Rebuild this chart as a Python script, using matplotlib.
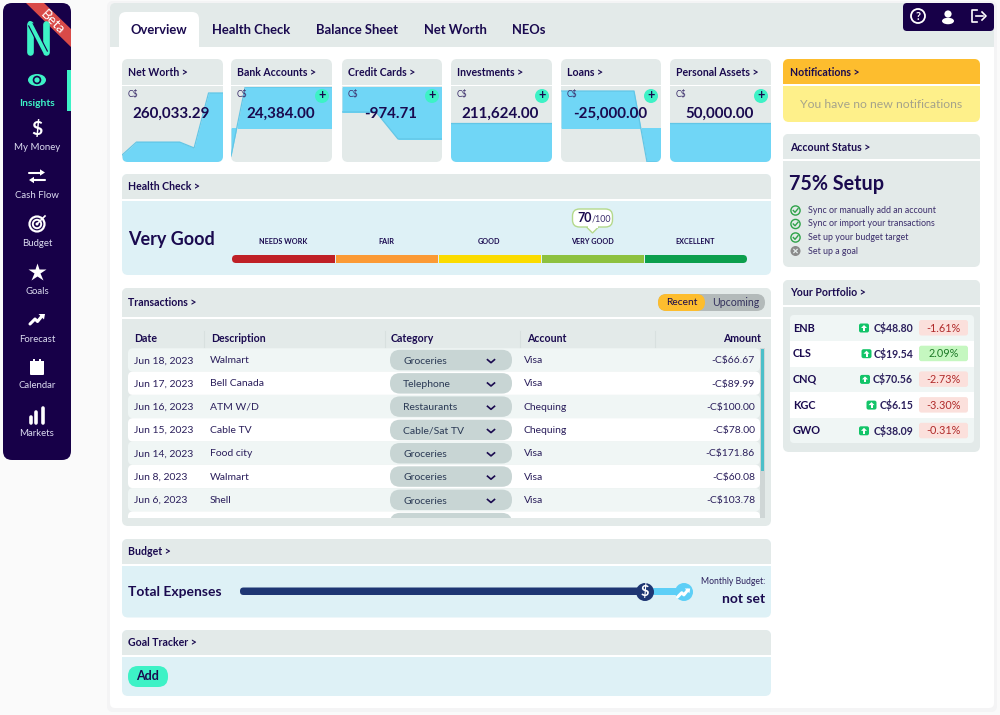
#! /usr/bin/env python
"""
plot.py
"""

import matplotlib
matplotlib.use('Agg')
import matplotlib.pyplot as plt
from matplotlib.patches import Circle, Ellipse, FancyBboxPatch, Polygon, Rectangle

INK = '#1a0a4f'
NAVY = '#170048'
TEAL = '#3df2c6'
PANEL = '#e3eae9'
BODY = '#def1f6'
SKY = '#70d6f6'

plt.rcParams['font.family'] = ['Lato', 'DejaVu Sans']

# sidebar
nav_labels = ['Insights', 'My Money', 'Cash Flow', 'Budget', 'Goals',
              'Forecast', 'Calendar', 'Markets']
tabs = ['Overview', 'Health Check', 'Balance Sheet', 'Net Worth', 'NEOs']

# summary cards
card_titles = ['Net Worth >', 'Bank Accounts >', 'Credit Cards >',
               'Investments >', 'Loans >', 'Personal Assets >']
card_values = [260033.29, 24384.00, -974.71, 211624.00, -25000.00, 50000.00]
card_plus = [False, True, True, True, True, True]
spark_x = [[0, 14.3, 28.6, 42.9, 57.1, 71.4, 85.7, 100],
           [0, 14, 100],
           [0, 34, 56, 100],
           [0, 100],
           [0, 73, 86, 100],
           [0, 100]]
spark_y = [[26000, 75000, 75000, 75000, 75000, 53000, 260033, 260033],
           [-16660, 24384, 24384],
           [-468, -468, -974.71, -974.71],
           [211624, 211624],
           [27200, 27200, -25000, -25000],
           [50000, 50000]]
spark_ylim = [(0, 282600), (-20220, 24384), (-1406, 0), (0, 406960),
              (-25000, 30147), (0, 96150)]

# health check
health_labels = ['NEEDS WORK', 'FAIR', 'GOOD', 'VERY GOOD', 'EXCELLENT']
health_colors = ['#bf2026', '#fb9a35', '#fbdc00', '#8dc13f', '#0b9f4d']
health_score = 70

# transactions
tx_headers = ['Date', 'Description', 'Category', 'Account', 'Amount']
tx_dates = ['Jun 18, 2023', 'Jun 17, 2023', 'Jun 16, 2023', 'Jun 15, 2023',
            'Jun 14, 2023', 'Jun 8, 2023', 'Jun 6, 2023']
tx_desc = ['Walmart', 'Bell Canada', 'ATM W/D', 'Cable TV', 'Food city',
           'Walmart', 'Shell']
tx_cat = ['Groceries', 'Telephone', 'Restaurants', 'Cable/Sat TV',
          'Groceries', 'Groceries', 'Groceries']
tx_acct = ['Visa', 'Visa', 'Chequing', 'Chequing', 'Visa', 'Visa', 'Visa']
tx_amount = [66.67, 89.99, 100.00, 78.00, 171.86, 60.08, 103.78]

# account status
setup_steps = ['Sync or manually add an account',
               'Sync or import your transactions',
               'Set up your budget target', 'Set up a goal']
setup_done = [True, True, True, False]

# portfolio
tickers = ['ENB', 'CLS', 'CNQ', 'KGC', 'GWO']
prices = [48.80, 19.54, 70.56, 6.15, 38.09]
changes = [-1.61, 2.09, -2.73, -3.30, -0.31]


def rbox(ax, x0, y0, x1, y1, r, color, **kw):
    p = FancyBboxPatch((x0, y0), x1 - x0, y1 - y0,
                       boxstyle='round,pad=0,rounding_size=%g' % r,
                       fc=color, ec=kw.pop('ec', 'none'), **kw)
    ax.add_patch(p)
    return p


def rect(ax, x0, y0, x1, y1, color, **kw):
    p = Rectangle((x0, y0), x1 - x0, y1 - y0, fc=color, ec='none', **kw)
    ax.add_patch(p)
    return p


def txt(ax, x, y, s, size, color=INK, weight='normal', ha='left', **kw):
    return ax.text(x, y, s, fontsize=size, color=color, fontweight=weight,
                   ha=ha, va='center', **kw)


def section(ax, x0, y0, x1, y1, title, body=BODY, head=PANEL, hh=25):
    rbox(ax, x0, y0, x1, y1, 6, body)
    rbox(ax, x0, y0, x1, y0 + hh, 6, head)
    rect(ax, x0, y0 + 10, x1, y0 + hh, head)
    rect(ax, x0, y0 + hh, x1, y0 + hh + 2, 'white')
    txt(ax, x0 + 6, y0 + 13, title, 7.6, weight='bold')


def draw_arrow(ax, x0, x1, y, color='white'):
    sign = 1 if x1 > x0 else -1
    ax.plot([x0, x1 - sign * 3], [y, y], color=color, lw=1.5, solid_capstyle='round')
    ax.add_patch(Polygon([(x1, y), (x1 - sign * 5, y - 3.2), (x1 - sign * 5, y + 3.2)],
                         fc=color, ec='none'))


def draw_sidebar(bg, ax):
    side = rbox(bg, 3, 3, 71, 460, 9, NAVY)
    ribbon = Polygon([(26, 3), (44, 3), (72, 30), (72, 48)], fc='#d94a48',
                     ec='none')
    bg.add_patch(ribbon)
    ribbon.set_clip_path(side)
    ax.text(53, 22, 'Beta', fontsize=10, color='white', rotation=-45,
            ha='center', va='center', rotation_mode='anchor')
    # logo
    ax.plot([30, 30], [24, 52], color=TEAL, lw=4.8, solid_capstyle='round')
    ax.plot([45.5, 45.5], [24, 52], color=TEAL, lw=4.8, solid_capstyle='round')
    ax.plot([32, 44], [27, 50], color=NAVY, lw=4.4)
    ax.plot([30, 45.5], [23, 53], color=TEAL, lw=2.8, solid_capstyle='round')

    rect(bg, 67, 70, 71, 111, TEAL)
    ys = [104, 148, 196, 243, 291, 339, 386, 434]
    for i, (label, y) in enumerate(zip(nav_labels, ys)):
        color = TEAL if i == 0 else '#dcdcf0'
        txt(ax, 37, y, label, 7.4 if i == 0 else 6.9, color=color, ha='center',
            weight='bold' if i == 0 else 'normal')
    # icons
    ax.add_patch(Ellipse((37, 80), 18, 12, fc=TEAL, ec='none'))
    ax.add_patch(Circle((37, 80), 4.3, fc=NAVY, ec='none'))
    ax.add_patch(Circle((37, 80), 2.6, fc=TEAL, ec='none'))
    txt(ax, 37, 129, '$', 14, color='white', ha='center', weight='bold')
    draw_arrow(ax, 45, 29, 180)
    draw_arrow(ax, 29, 45, 172.5)
    for r, w in [(7.5, 1.6), (4.2, 1.4)]:
        ax.add_patch(Circle((37, 224), r, fc='none', ec='white', lw=w))
    ax.add_patch(Circle((37, 224), 1.5, fc='white', ec='none'))
    ax.plot([37, 45], [224, 216], color='white', lw=1.2)
    ax.plot([37], [272], marker='*', ms=13.5, color='white', mec='none')
    draw_trend(ax, 30, 324, 1.0, 'white')
    rbox(ax, 30, 363, 44, 375, 1, 'white')
    rect(ax, 30, 361, 44, 365, 'white')
    rect(ax, 33, 359, 35, 362, 'white')
    rect(ax, 39, 359, 41, 362, 'white')
    for x, y0 in zip([30.5, 36, 42.5], [417, 412, 408]):
        ax.plot([x, x], [y0, 423], color='white', lw=2.6, solid_capstyle='round')


def draw_trend(ax, x, y, s, color):
    ax.plot([x, x + 5 * s, x + 7.5 * s, x + 12 * s],
            [y, y - 5 * s, y - 2.5 * s, y - 8 * s],
            color=color, lw=2.2, solid_capstyle='round')
    ax.add_patch(Polygon([(x + 15 * s, y - 10 * s), (x + 8.5 * s, y - 10 * s),
                          (x + 14 * s, y - 4.5 * s)], fc=color, ec='none'))


def draw_cards(fig, bg, ax):
    lefts = [122, 231, 342, 451, 561, 670]
    rights = [223, 332, 442, 552, 661, 771]
    for i, title in enumerate(card_titles):
        x0, x1 = lefts[i], rights[i]
        card = rbox(bg, x0, 59, x1, 162, 6, PANEL)
        rect(bg, x0, 84.5, x1, 86, 'white')
        txt(ax, x0 + 6, 72, title, 7.6, weight='bold')
        txt(ax, x0 + 6, 95, 'C$', 6.2, color='#3b2d6b')
        txt(ax, (x0 + x1) / 2 - 1, 114, '{:,.2f}'.format(card_values[i]), 10.9,
            ha='center', weight='bold')
        if card_plus[i]:
            ax.add_patch(Circle((x1 - 10, 96), 7, fc=TEAL, ec='none'))
            txt(ax, x1 - 10, 95.5, '+', 9, ha='center', weight='bold')

        sp = fig.add_axes([x0 / 1000, 1 - 162 / 715, (x1 - x0) / 1000, 75 / 715],
                          zorder=1)
        sp.axis('off')
        sp.patch.set_alpha(0)
        sp.set_xlim(0, 100)
        sp.set_ylim(*spark_ylim[i])
        base = 0
        fill = sp.fill_between(spark_x[i], spark_y[i], base, color=SKY, lw=0)
        line, = sp.plot(spark_x[i], spark_y[i], color='#62c6e6', lw=0.9)
        fill.set_clip_path(card)
        line.set_clip_path(card)


def draw_health(bg, ax):
    section(bg, 122, 174, 771, 275, '', hh=25)
    txt(ax, 128, 186.5, 'Health Check >', 7.6, weight='bold')
    txt(ax, 128, 239, 'Very Good', 13, weight='bold')
    x0, width = 232, 515
    n = len(health_labels)
    for i in range(n):
        a = x0 + width * i / n
        b = x0 + width * (i + 1) / n
        if i == 0:
            rbox(ax, a, 255, a + 20, 263, 4, health_colors[i])
            rect(ax, a + 6, 255, b - 0.5, 263, health_colors[i])
        elif i == n - 1:
            rbox(ax, b - 20, 255, b, 263, 4, health_colors[i])
            rect(ax, a + 0.5, 255, b - 6, 263, health_colors[i])
        else:
            rect(ax, a + 0.5, 255, b - 0.5, 263, health_colors[i])
        txt(ax, (a + b) / 2, 242, health_labels[i], 5.2, ha='center', weight='bold')
    bx = x0 + width * health_score / 100.0
    ax.add_patch(Polygon([(bx - 6, 227), (bx, 233), (bx + 6, 227)],
                         fc='white', ec='#b4d98c', lw=1))
    rbox(ax, bx - 20, 209, bx + 20, 227, 7, 'white', ec='#b4d98c', lw=1)
    rect(ax, bx - 5, 225, bx + 5, 228, 'white')
    txt(ax, bx - 1, 217.5, str(health_score), 9, ha='right', weight='bold')
    txt(ax, bx - 1, 218.5, '/100', 6.4, color='#3b2d6b')


def draw_transactions(bg, ax):
    section(bg, 122, 288, 771, 526, '', body=PANEL, hh=29)
    txt(ax, 128, 302, 'Transactions >', 7.6, weight='bold')
    rbox(ax, 658, 294, 765, 311, 8.5, '#b3baba')
    rbox(ax, 658, 294, 705, 311, 8.5, '#fdbd2e')
    txt(ax, 681.5, 302.5, 'Recent', 7.4, ha='center')
    txt(ax, 735.5, 302.5, 'Upcoming', 7.6, color='#33305c', ha='center')

    heads = [134, 211, 391, 527, 761]
    seps = [204, 385, 520, 655]
    for s in seps:
        ax.plot([s, s], [331, 347], color='#d8e0df', lw=0.8)
    for i, h in enumerate(tx_headers):
        txt(ax, heads[i], 338, h, 7.6, weight='bold',
            ha='right' if i == 4 else 'left')

    rect(ax, 760, 348, 765, 518, '#cfd6d6')
    rect(ax, 760.5, 349, 764, 471, '#4bbfc9')
    step = 23.3
    window = rect(bg, 128, 348, 760, 517.5, 'none')
    for i in range(8):
        y0 = 348.3 + i * step
        row = rbox(bg, 128, y0, 760, y0 + step, 5,
                   '#f0f6f5' if i % 2 == 0 else 'white')
        row.set_clip_path(window)
        pill = rbox(ax, 390, y0 + 1.5, 512, y0 + 22, 10, '#c8d5d4')
        pill.set_clip_path(window)
    for i in range(len(tx_dates)):
        y = 360.7 + i * step
        txt(ax, 134, y, tx_dates[i], 7.5, color='#2b1f5c')
        txt(ax, 210, y, tx_desc[i], 7.5, color='#2b1f5c')
        txt(ax, 403, y + 0.5, tx_cat[i], 7.5, color='#2b3a55')
        ax.plot([487.5, 491, 494.5], [y - 1, y + 2, y - 1], color=INK, lw=1.2)
        txt(ax, 524, y, tx_acct[i], 7.5, color='#2b1f5c')
        txt(ax, 755, y, '-C${:.2f}'.format(tx_amount[i]), 7.5, color='#2b1f5c',
            ha='right')


def draw_budget(bg, ax):
    section(bg, 122, 539, 771, 617.5, '')
    txt(ax, 128, 551.5, 'Budget >', 7.6, weight='bold')
    txt(ax, 128, 592.5, 'Total Expenses', 10, weight='bold')
    rbox(ax, 645, 588, 684, 595, 2, '#5dcff7')
    rbox(ax, 240, 587.5, 645, 595, 3.5, '#1e3673')
    ax.add_patch(Circle((645, 592), 9, fc='#1e3673', ec='none'))
    txt(ax, 645, 591.5, '$', 10.5, color='white', ha='center', weight='bold')
    ax.add_patch(Circle((684, 592), 9, fc='#5dcff7', ec='none'))
    draw_trend(ax, 677.5, 597, 0.85, 'white')
    txt(ax, 765, 581, 'Monthly Budget:', 6.2, ha='right', color='#2b1f5c')
    txt(ax, 765, 599, 'not set', 10, ha='right', weight='bold')

    section(bg, 122, 630, 771, 696, '')
    txt(ax, 128, 643, 'Goal Tracker >', 7.6, weight='bold')
    rbox(ax, 128, 666, 168, 687, 10, TEAL)
    txt(ax, 148, 676.5, 'Add', 9, ha='center', weight='bold')


def draw_right(bg, ax):
    # notifications
    rbox(bg, 783, 59, 980, 122, 6, '#fef08a')
    rbox(bg, 783, 59, 980, 84, 6, '#fdbd2e')
    rect(bg, 783, 70, 980, 84, '#fdbd2e')
    rect(bg, 783, 84, 980, 85.5, 'white')
    txt(ax, 790, 72, 'Notifications >', 7.6, weight='bold')
    txt(ax, 881.5, 104, 'You have no new notifications', 8.8, color='#a5a38a',
        ha='center')

    # account status
    section(bg, 783, 134, 980, 267, '', body=PANEL)
    txt(ax, 790, 147.5, 'Account Status >', 7.6, weight='bold')
    txt(ax, 789, 184.5, '75% Setup', 14.2, weight='bold')
    ys = [210.5, 224, 237.5, 251]
    for s, done, y in zip(setup_steps, setup_done, ys):
        if done:
            ax.add_patch(Circle((795.5, y), 4.6, fc='none', ec='#2fa34a', lw=1))
            ax.plot([793.3, 795, 798], [y, y + 1.8, y - 1.8], color='#2fa34a', lw=1)
        else:
            ax.add_patch(Circle((795.5, y), 5, fc='#8a8a8a', ec='none'))
            ax.plot([793.8, 797.2], [y - 1.7, y + 1.7], color='#e3eae9', lw=0.9)
            ax.plot([793.8, 797.2], [y + 1.7, y - 1.7], color='#e3eae9', lw=0.9)
        txt(ax, 808, y, s, 6.4, color='#3b2d6b')

    # portfolio
    section(bg, 783, 280, 980, 452, '', body=PANEL)
    txt(ax, 790, 292.5, 'Your Portfolio >', 7.6, weight='bold')
    rbox(bg, 790, 315, 974, 443, 4, '#f0f6f5')
    icon_x = [864, 866.5, 865, 871.5, 864]
    for i in range(len(tickers)):
        y = 328 + i * 25.7
        if i % 2 == 1:
            rect(bg, 790, y - 12.8, 974, y + 12.8, 'white')
        txt(ax, 793, y, tickers[i], 7.8, weight='bold')
        txt(ax, 913, y, 'C${:.2f}'.format(prices[i]), 7.6, ha='right', weight='bold',
            color='#2b1f5c')
        rbox(ax, icon_x[i] - 5, y - 4.5, icon_x[i] + 5, y + 4.5, 2, '#12c468')
        ax.add_patch(Polygon([(icon_x[i] - 3, y), (icon_x[i], y - 3),
                              (icon_x[i] + 3, y)], fc='white', ec='none'))
        rect(ax, icon_x[i] - 1, y - 0.5, icon_x[i] + 1, y + 3, 'white')
        up = changes[i] > 0
        rbox(ax, 919, y - 8, 968, y + 7.5, 2.5, '#c5f7c0' if up else '#fbe0dc')
        txt(ax, 943.5, y, '{:.2f}%'.format(changes[i]), 7.8,
            color='#1c7a26' if up else '#b02a2a', ha='center')


def draw_topright(ax):
    rbox(ax, 903, 3, 994, 31, 4, NAVY)
    ax.add_patch(Circle((918, 16), 7, fc='none', ec='white', lw=1.3))
    txt(ax, 918, 16, '?', 8, color='white', ha='center', weight='bold')
    ax.add_patch(Circle((948, 14), 3.6, fc='white', ec='none'))
    ax.add_patch(Ellipse((948, 21), 12, 6.5, fc='white', ec='none'))
    ax.plot([977, 972, 972, 977], [10, 10, 22, 22], color='white', lw=1.2)
    ax.plot([976, 983], [16, 16], color='white', lw=1.2)
    ax.plot([982, 986, 982], [12, 16, 20], color='white', lw=1.2)


def make_axes(fig, z):
    ax = fig.add_axes([0, 0, 1, 1], zorder=z)
    ax.set_xlim(0, 1000)
    ax.set_ylim(715, 0)
    ax.set_autoscale_on(False)
    ax.axis('off')
    ax.patch.set_alpha(0)
    return ax


fig = plt.figure(figsize=(10, 7.15), dpi=100, facecolor='#fafafa')
bg = make_axes(fig, 0)
top = make_axes(fig, 2)

# main panel with soft shadow
rbox(bg, 107, 1, 997, 712, 6, '#f4f4f5')
rbox(bg, 110, 3, 994, 708, 5, 'white')
rbox(bg, 110, 3, 994, 47, 5, PANEL)
rect(bg, 110, 20, 994, 47, PANEL)
rbox(bg, 119, 12, 199, 60, 7, 'white')
rect(bg, 110, 47, 994, 58, 'white')

tab_x = [159, 251, 357.5, 455.5, 528.5]
for name, x in zip(tabs, tab_x):
    txt(top, x, 29.5, name, 9.4, ha='center', weight='bold')

draw_sidebar(bg, top)
draw_cards(fig, bg, top)
draw_health(bg, top)
draw_transactions(bg, top)
draw_budget(bg, top)
draw_right(bg, top)
draw_topright(top)

fig.savefig('out.png', dpi=100)
plt.close(fig)
